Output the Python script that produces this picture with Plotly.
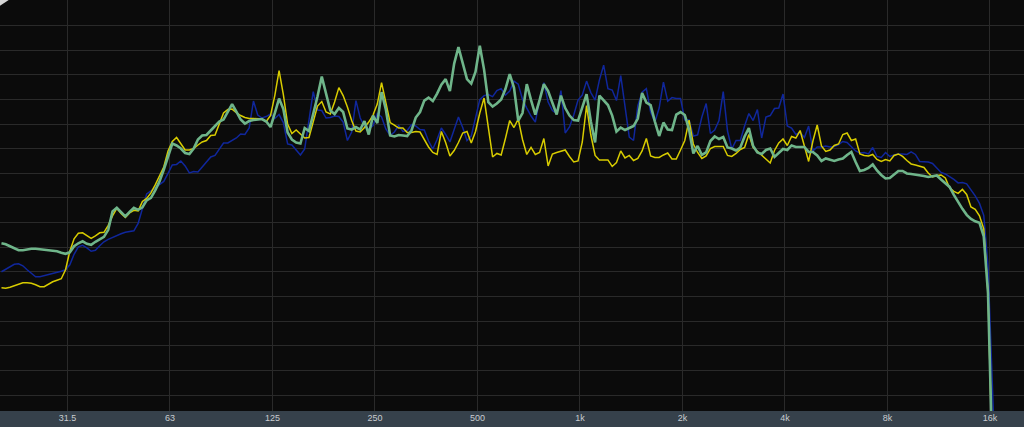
import plotly.graph_objects as go

# 1/24-octave analysis bands starting at 20 Hz
BANDS_PER_OCTAVE = 24
START_HZ = 20.0

# Levels in dB (relative), one value per 1/24-octave band
blue_db = [
    -54.3, -53.8, -53.3, -52.8, -52.7, -53.1, -53.9, -54.6, -55.3, -55.3,
    -55.1, -54.9, -54.7, -54.5, -54.2, -53.9, -52.9, -50.8, -49.3, -49.0,
    -49.5, -50.2, -50.0, -49.1, -48.3, -47.8, -47.4, -47.0, -46.7, -46.4,
    -46.3, -46.1, -44.6, -41.5, -38.7, -38.1, -37.5, -36.8, -36.2, -34.6,
    -32.9, -32.8, -32.1, -33.1, -34.5, -34.2, -34.3, -33.3, -32.2, -31.3,
    -31.0, -29.7, -28.5, -28.5, -28.0, -27.5, -26.7, -26.8, -25.5, -20.1,
    -22.9, -23.5, -23.2, -22.7, -23.6, -22.8, -24.4, -28.7, -28.9, -29.9,
    -30.9, -29.7, -24.4, -18.2, -21.9, -22.0, -23.5, -23.4, -23.1, -23.2,
    -24.3, -28.0, -26.3, -20.0, -23.5, -25.2, -25.7, -25.0, -22.6, -23.3,
    -25.7, -27.0, -26.3, -25.0, -26.2, -26.0, -24.8, -25.1, -25.8, -25.9,
    -28.1, -29.7, -27.8, -25.5, -26.8, -28.3, -25.8, -23.3, -25.4, -28.0,
    -27.1, -23.6, -19.8, -19.0, -18.8, -19.2, -18.0, -17.6, -18.9, -18.1,
    -16.1, -16.7, -19.8, -21.5, -23.1, -24.3, -19.8, -16.4, -20.3, -22.0,
    -22.6, -18.0, -26.5, -25.3, -22.9, -19.9, -18.9, -16.1, -18.4, -19.9,
    -15.9, -12.9, -17.6, -17.9, -20.0, -15.0, -21.7, -27.3, -28.0, -21.0,
    -18.3, -17.6, -22.3, -24.3, -21.5, -16.3, -20.1, -19.4, -19.6, -19.6,
    -23.9, -23.9, -27.1, -26.9, -23.3, -20.6, -26.6, -25.9, -24.0, -18.2,
    -26.1, -29.7, -28.0, -28.0, -25.1, -22.6, -24.0, -21.8, -27.5, -23.3,
    -23.0, -21.6, -21.5, -18.7, -25.1, -25.5, -26.8, -26.4, -27.4, -25.1,
    -30.1, -29.3, -29.3, -29.1, -29.3, -29.2, -28.8, -28.2, -28.4, -29.2,
    -30.1, -30.5, -30.4, -30.7, -29.4, -31.2, -31.4, -30.4, -31.2, -30.9,
    -30.7, -30.7, -30.8, -30.3, -30.8, -32.2, -32.3, -32.3, -32.6, -33.4,
    -34.4, -34.7, -35.2, -35.8, -36.5, -36.4, -36.7, -37.8, -39.1, -40.6,
    -43.0, -53.2, -78.8, -100.0,
]

yellow_db = [
    -57.5, -57.6, -57.4, -57.1, -56.8, -56.5, -56.5, -56.6, -56.9, -57.3,
    -57.3, -56.8, -56.3, -56.0, -55.7, -53.9, -50.2, -47.7, -46.6, -46.5,
    -47.1, -47.6, -47.1, -46.5, -46.4, -45.0, -43.1, -41.6, -42.6, -43.4,
    -42.5, -42.0, -42.1, -40.2, -39.6, -38.5, -36.9, -35.2, -33.3, -30.1,
    -28.2, -27.4, -28.6, -29.9, -29.9, -29.6, -28.9, -28.3, -28.0, -27.0,
    -26.9, -24.6, -22.5, -21.8, -21.7, -22.4, -23.0, -23.4, -23.6, -23.6,
    -23.6, -23.7, -24.2, -23.0, -19.0, -14.0, -18.8, -24.7, -26.6, -25.9,
    -26.7, -27.5, -27.4, -24.0, -21.1, -20.2, -22.3, -22.7, -20.3, -17.4,
    -19.0, -21.3, -24.0, -26.1, -26.3, -25.4, -24.3, -22.9, -20.7, -16.4,
    -20.5, -24.4, -24.9, -25.5, -25.5, -26.4, -26.4, -26.2, -26.3, -27.8,
    -29.3, -30.4, -30.8, -26.2, -28.4, -31.1, -30.0, -28.4, -26.5, -26.2,
    -28.5, -26.2, -22.5, -19.5, -25.0, -31.3, -30.6, -30.9, -27.6, -24.0,
    -25.4, -23.7, -27.8, -30.8, -29.4, -30.8, -30.4, -27.6, -33.1, -30.7,
    -30.4, -30.2, -29.9, -31.2, -32.3, -32.1, -28.3, -21.0, -26.9, -31.0,
    -31.9, -31.9, -31.9, -33.2, -32.4, -30.1, -31.5, -31.0, -32.0, -31.6,
    -30.1, -27.6, -31.1, -31.4, -31.4, -30.9, -30.5, -31.7, -31.7, -29.9,
    -28.0, -23.9, -28.7, -30.4, -31.6, -31.1, -29.6, -29.2, -29.2, -29.2,
    -31.0, -31.2, -30.6, -29.8, -29.4, -26.8, -29.4, -30.2, -30.8, -31.6,
    -32.5, -30.0, -28.5, -27.7, -29.0, -27.2, -27.5, -26.0, -29.0, -32.2,
    -28.1, -24.9, -29.1, -30.2, -29.9, -29.0, -28.7, -26.8, -26.5, -28.0,
    -27.7, -30.7, -31.0, -31.1, -30.8, -31.8, -32.2, -31.8, -32.1, -31.0,
    -30.7, -31.2, -32.0, -32.7, -32.9, -33.1, -33.4, -34.5, -35.3, -35.0,
    -34.9, -35.5, -37.5, -38.2, -38.6, -37.8, -38.8, -41.3, -41.8, -43.1,
    -45.7, -58.6, -92.0, -100.0,
]

green_db = [
    -48.6, -48.8, -49.2, -49.6, -50.0, -50.0, -49.8, -49.7, -49.7, -49.8,
    -49.9, -50.0, -50.1, -50.2, -50.5, -50.7, -50.4, -49.2, -48.6, -48.2,
    -48.7, -48.9, -48.3, -47.8, -47.3, -45.9, -42.2, -41.5, -42.3, -43.2,
    -42.3, -41.5, -41.9, -41.4, -40.0, -39.5, -38.0, -36.2, -33.9, -31.3,
    -28.6, -29.0, -29.6, -30.5, -30.7, -29.6, -27.8, -27.0, -26.9, -26.0,
    -25.0, -24.2, -23.8, -22.3, -20.7, -22.2, -23.8, -24.6, -24.1, -23.9,
    -23.8, -23.7, -24.2, -25.3, -22.5, -19.6, -21.7, -26.4, -27.8, -28.4,
    -28.6, -25.5, -26.1, -22.9, -19.2, -15.2, -18.8, -22.0, -22.7, -21.5,
    -22.3, -25.6, -25.8, -25.3, -25.8, -24.1, -26.8, -23.0, -24.5, -18.3,
    -21.8, -27.0, -27.2, -26.9, -27.0, -27.1, -26.0, -23.4, -22.3, -20.0,
    -19.4, -20.1, -18.6, -16.8, -15.7, -18.1, -12.6, -9.3, -12.5, -15.7,
    -16.6, -14.2, -9.0, -13.8, -20.3, -21.2, -20.6, -19.8, -17.7, -14.7,
    -17.4, -24.0, -22.5, -16.7, -19.9, -22.8, -19.9, -16.7, -18.1, -20.6,
    -22.8, -19.0, -21.5, -23.0, -23.9, -24.0, -21.5, -18.7, -24.2, -28.4,
    -19.0, -19.9, -20.9, -23.0, -26.2, -25.4, -25.9, -25.5, -25.1, -23.6,
    -18.5, -20.4, -20.9, -24.2, -27.1, -24.4, -25.8, -25.9, -22.8, -22.3,
    -22.9, -25.8, -30.6, -29.1, -30.9, -30.4, -28.1, -27.2, -27.7, -27.3,
    -29.4, -29.6, -30.0, -29.4, -27.2, -25.5, -29.1, -30.4, -30.7, -29.9,
    -29.6, -31.3, -30.5, -29.7, -29.9, -29.0, -29.3, -29.3, -29.3, -30.3,
    -30.3, -31.0, -32.1, -31.6, -31.8, -32.1, -31.8, -31.6, -30.9, -30.3,
    -32.3, -34.1, -33.9, -33.5, -32.8, -34.0, -34.9, -35.6, -35.5, -34.8,
    -34.1, -34.1, -34.6, -34.7, -34.8, -35.0, -35.1, -35.3, -35.2, -35.0,
    -35.8, -36.5, -37.3, -38.9, -40.4, -41.7, -42.9, -43.7, -44.2, -44.5,
    -47.2, -58.6, -91.0, -100.0,
]

tick_vals = [31.25, 62.5, 125, 250, 500, 1000, 2000, 4000, 8000, 16000]
tick_text = ["31.5", "63", "125", "250", "500", "1k", "2k", "4k", "8k", "16k"]

freqs = [START_HZ * 2 ** (i / BANDS_PER_OCTAVE) for i in range(len(green_db))]

fig = go.Figure()
fig.add_trace(go.Scatter(x=freqs, y=blue_db, mode="lines", name="A",
                         line=dict(color="#10279c", width=1.5)))
fig.add_trace(go.Scatter(x=freqs, y=yellow_db, mode="lines", name="B",
                         line=dict(color="#d8cc00", width=1.5)))
fig.add_trace(go.Scatter(x=freqs, y=green_db, mode="lines", name="C",
                         line=dict(color="#6fb58a", width=2.6)))

fig.update_layout(
    width=1024, height=427,
    margin=dict(l=0, r=0, t=0, b=16),
    paper_bgcolor="#36414b",
    plot_bgcolor="#0b0b0b",
    showlegend=False,
    hovermode=False,
    font=dict(family="Liberation Sans, Arial, sans-serif", size=9, color="#c9ccd0"),
    xaxis=dict(
        type="log",
        range=[1.2967, 4.3041],
        tickmode="array", tickvals=tick_vals, ticktext=tick_text,
        showgrid=True, gridcolor="#2a2a2a", gridwidth=1,
        zeroline=False, showline=False, ticks="",
        automargin=False, fixedrange=True,
        tickfont=dict(size=9, color="#c9ccd0"),
    ),
    yaxis=dict(
        range=[-82.2, 0.15],
        tickmode="linear", tick0=0, dtick=4.94,
        showgrid=True, gridcolor="#2a2a2a", gridwidth=1,
        zeroline=False, showline=False, showticklabels=False, ticks="",
        automargin=False, fixedrange=True,
    ),
    shapes=[
        # small corner handle at the top-left of the display
        dict(type="path", xref="paper", yref="paper",
             path="M 0,1 L 0.0085,1 L 0,0.986 Z",
             fillcolor="#d6d6d6", line=dict(width=0), layer="above"),
    ],
)

fig.write_html(
    "out.html",
    config={"displayModeBar": False},
    post_script="document.body.style.margin='0';document.body.style.padding='0';"
                "document.body.style.overflow='hidden';",
)
